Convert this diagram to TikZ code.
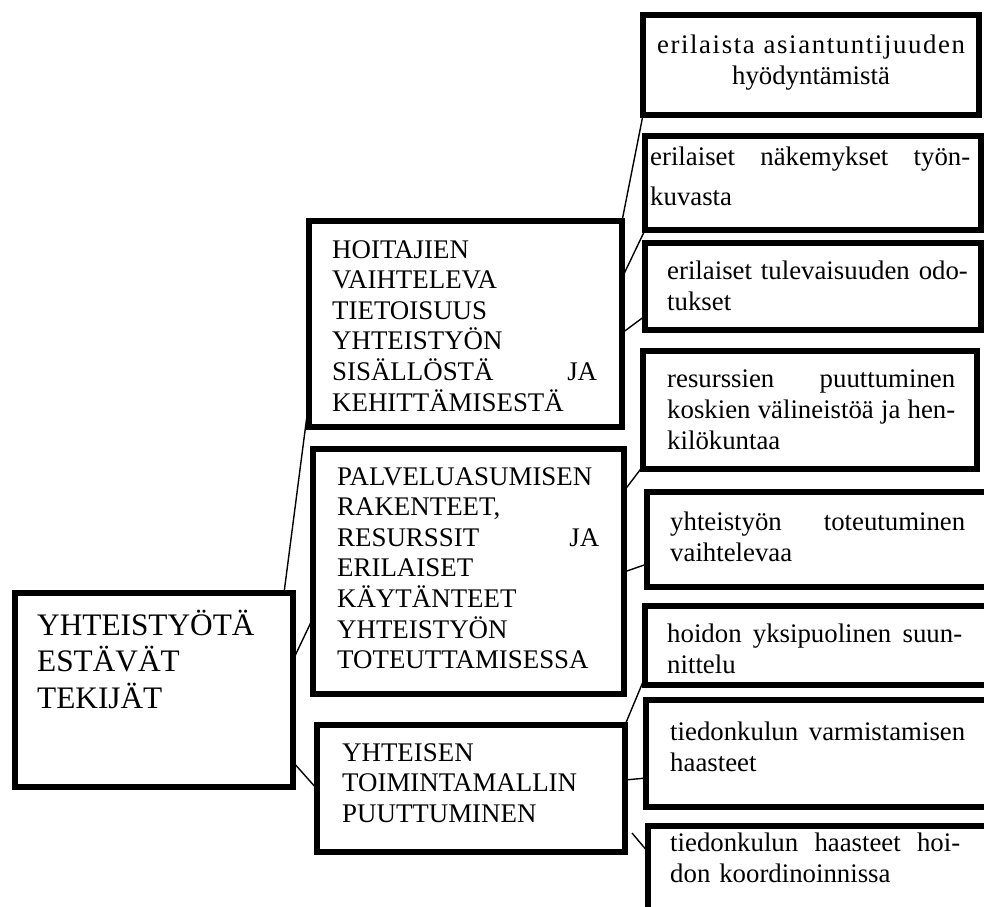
\documentclass[tikz,border=0pt]{standalone}
\usepackage{fontspec}
\setmainfont{Liberation Serif}
\usetikzlibrary{calc}
\begin{document}
\begin{tikzpicture}[x=1pt,y=-1pt,
  frame/.style={draw, line width=6pt, anchor=north west, inner sep=0pt, outer sep=0pt},
  link/.style={line width=1.4pt},
  bigtext/.style={anchor=base west, inner sep=0pt, align=left, text width=250pt,
    font=\fontsize{31.3}{36.7}\selectfont},
  midtext/.style={anchor=base west, inner sep=0pt, align=left,
    font=\fontsize{26.9}{30.6}\selectfont},
  leaftext/.style={anchor=base west, inner sep=0pt, align=left,
    font=\fontsize{26.8}{31}\selectfont},
]
\useasboundingbox (0,0) rectangle (984,906);
\clip (0,0) rectangle (984,906);

% boxes
\node[frame, minimum width=278pt, minimum height=194pt] (root) at (15,593) {};
\node[frame, minimum width=313pt, minimum height=206pt] (hoit) at (309,221) {};
\node[frame, minimum width=311pt, minimum height=245pt] (palv) at (313,449) {};
\node[frame, minimum width=308pt, minimum height=127pt] (yht) at (317,725) {};
\node[frame, minimum width=336pt, minimum height=100pt] (r1) at (643,15) {};
\node[frame, minimum width=336pt, minimum height=94pt] (r2) at (645,136) {};
\node[frame, minimum width=336pt, minimum height=87pt] (r3) at (645,243) {};
\node[frame, minimum width=334pt, minimum height=118pt] (r4) at (643,351) {};
\node[frame, minimum width=350pt, minimum height=95pt] (r5) at (647,492) {};
\node[frame, minimum width=350pt, minimum height=79pt] (r6) at (645,606) {};
\node[frame, minimum width=350pt, minimum height=107pt] (r7) at (646,700) {};
\node[frame, minimum width=350pt, minimum height=94pt] (r8) at (648,826) {};

% connectors
\draw[link] ([xshift=-9pt]root.north east) -- ([yshift=27pt]hoit.south west);
\draw[link] ([yshift=-67pt]root.north east) -- ([yshift=-169pt]palv.north west);
\draw[link] ([yshift=-169pt]root.north east) -- ([yshift=-64pt]yht.north west);
\draw[link] (hoit.north east) -- (r1.south west);
\draw[link] ([yshift=-57pt]hoit.north east) -- (r2.south west);
\draw[link] ([yshift=-112pt]hoit.north east) -- ([yshift=-73pt]r3.north west);
\draw[link] ([yshift=-42pt]palv.north east) -- ([yshift=3pt]r4.south west);
\draw[link] ([yshift=-123pt]palv.north east) -- ([yshift=-72pt]r5.north west);
\draw[link] (yht.north east) -- ([yshift=8pt]r6.south west);
\draw[link] ([yshift=-55pt]yht.north east) -- ([yshift=-78pt]r7.north west);
\draw[link] ([shift={(7pt,-108pt)}]yht.north east) -- ([yshift=-26pt]r8.north west);

% texts
\node[bigtext] (troot) at (37,635) {YHTEISTYÖTÄ\\ESTÄVÄT\\TEKIJÄT};
\node[midtext, text width=265pt] (thoit) at (332,258)
  {HOITAJIEN\\VAIHTELEVA\\TIETOISUUS\\YHTEISTYÖN\\SISÄLLÖSTÄ\hfill JA\\KEHITTÄMISESTÄ};
\node[midtext, text width=262pt] (tpalv) at (337,485)
  {PALVELUASUMISEN\\RAKENTEET,\\RESURSSIT\hfill JA\\ERILAISET\\KÄYTÄNTEET\\YHTEISTYÖN\\TOTEUTTAMISESSA};
\node[midtext, text width=262pt] (tyht) at (342,761)
  {YHTEISEN\\TOIMINTAMALLIN\\PUUTTUMINEN};
\node[leaftext, anchor=base, align=center, text width=336pt] (tr1) at (811,53)
  {{\addfontfeature{LetterSpace=6}erilaista asiantuntijuuden}\\hyödyntämistä};
\node[leaftext, text width=320pt] (tr2) at (650,165)
  {erilaiset\hfill näkemykset\hfill työn-\\[9pt]kuvasta};
\node[leaftext, text width=305pt] (tr3) at (667,279)
  {erilaiset tulevaisuuden odo-\\tukset};
\node[leaftext, text width=288pt] (tr4) at (667,387)
  {resurssien\hfill puuttuminen\\koskien\hfill välineistöä\hfill ja\hfill hen-\\kilökuntaa};
\node[leaftext, text width=295pt] (tr5) at (670,530)
  {yhteistyön\hfill toteutuminen\\vaihtelevaa};
\node[leaftext, text width=295pt] (tr6) at (667,642)
  {hoidon\hfill yksipuolinen\hfill suun-\\nittelu};
\node[leaftext, text width=295pt] (tr7) at (670,740)
  {tiedonkulun\hfill varmistamisen\\haasteet};
\node[leaftext, text width=290pt] (tr8) at (670,851)
  {tiedonkulun\hfill haasteet\hfill hoi-\\don koordinoinnissa};
\end{tikzpicture}
\end{document}
